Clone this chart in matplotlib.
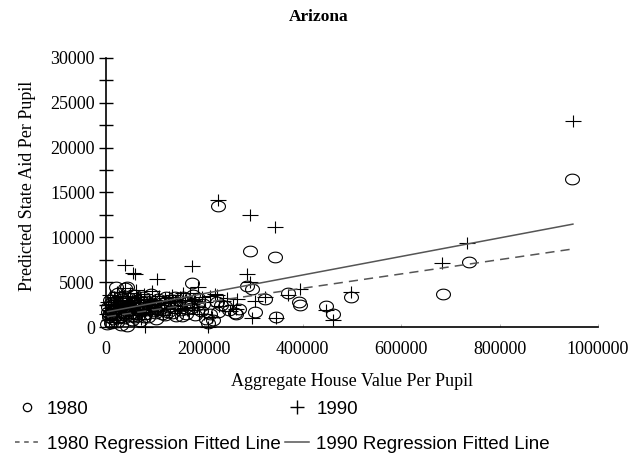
import numpy as np
import matplotlib
matplotlib.use("Agg")
import matplotlib.pyplot as plt
from matplotlib.path import Path
from matplotlib.lines import Line2D

# 1980 points: dense cluster near the origin
x80_cluster = [3000, 5000, 7000, 9000, 10000, 12000, 14000, 15000, 17000, 19000,
               20000, 22000, 24000, 25000, 27000, 29000, 30000, 32000, 34000, 35000,
               37000, 39000, 40000, 42000, 44000, 46000, 48000, 50000, 52000, 55000,
               57000, 60000, 62000, 65000, 68000, 70000, 73000, 76000, 79000, 82000,
               85000, 88000, 91000, 95000, 98000, 102000, 106000, 110000, 114000, 118000,
               122000, 127000, 132000, 137000, 142000, 147000, 152000, 157000, 162000, 167000,
               172000, 177000, 181000, 185000, 188000, 193000, 198000, 204000, 208000, 212000,
               218000, 225000, 228000, 233000, 242000, 250000, 262000, 264000, 270000, 140000,
               8000, 16000, 26000, 33000, 43000, 53000, 63000, 72000, 84000, 96000,
               6000, 11000, 18000, 23000, 28000, 36000, 41000, 47000, 51000, 58000,
               61000, 67000, 74000, 78000, 87000, 93000, 100000, 108000, 116000, 125000,
               134000, 145000, 155000, 165000, 175000, 4000, 31000, 56000, 81000, 120000]
y80_cluster = [300, 2200, 1100, 3000, 400, 1800, 2600, 900, 3400, 1500,
               2900, 600, 2100, 3800, 1300, 2500, 200, 3100, 1700, 2800,
               1000, 3500, 2300, 100, 1900, 3200, 1400, 2700, 800, 2400,
               3600, 1600, 3000, 1200, 2600, 700, 2000, 3300, 1500, 2900,
               1100, 2200, 3700, 1800, 2500, 900, 3100, 2000, 1400, 2700,
               3400, 1700, 2300, 3000, 1200, 2600, 1900, 3300, 1500, 2800,
               2100, 3600, 1300, 2400, 3200, 1800, 2600, 900, 500, 1500,
               800, 2800, 1700, 2400, 2300, 1900, 1600, 1500, 2000, 3400,
               1500, 2000, 1700, 2400, 4500, 1200, 2100, 2500, 1900, 2300,
               1300, 2700, 1900, 1000, 3300, 2100, 1600, 2400, 1900, 1100,
               2800, 1800, 2500, 1100, 2000, 2700, 1600, 2300, 1900, 2200,
               1600, 2400, 1200, 2000, 2700, 1700, 2300, 2900, 2000, 1300]
# 1980 points away from the cluster
x80_out = [174000, 21000, 38000, 227000, 286000, 296000, 292000, 344000, 323000, 303000,
           345000, 370000, 392000, 394000, 448000, 461000, 497000, 684000, 737000, 948000]
y80_out = [4900, 4500, 4400, 13500, 4600, 4200, 8500, 7800, 3100, 1700,
           1100, 3800, 2800, 2450, 2300, 1500, 3300, 3700, 7300, 16500]

# 1990 points: dense cluster near the origin
x90_cluster = [2000, 4000, 6000, 8000, 11000, 13000, 16000, 18000, 21000, 23000,
               26000, 28000, 31000, 33000, 36000, 38000, 41000, 43000, 45000, 47000,
               49000, 51000, 54000, 56000, 59000, 61000, 64000, 67000, 69000, 72000,
               75000, 78000, 81000, 84000, 87000, 90000, 93000, 97000, 100000, 104000,
               108000, 112000, 116000, 120000, 125000, 130000, 135000, 140000, 145000, 150000,
               155000, 160000, 165000, 170000, 175000, 180000, 185000, 190000, 196000, 202000,
               207000, 212000, 216000, 222000, 230000, 238000, 245000, 252000, 258000, 266000,
               10000, 24000, 34000, 52000, 66000, 80000, 94000, 110000, 128000, 150000,
               5000, 14000, 19000, 29000, 39000, 44000, 57000, 62000, 70000, 77000,
               86000, 99000, 106000, 118000, 138000, 160000, 178000, 200000, 9000, 48000]
y90_cluster = [1500, 2800, 800, 3600, 2100, 1200, 3300, 2500, 600, 3900,
               1800, 2900, 1400, 3500, 2200, 4300, 1000, 2700, 3200, 1700,
               3800, 2400, 1300, 3000, 2000, 4100, 1600, 2800, 3400, 900,
               2300, 3700, 1900, 2600, 3100, 1500, 4000, 2200, 2900, 1800,
               3500, 2500, 1300, 3200, 2700, 2000, 3600, 2900, 1600, 3300,
               2400, 3000, 1900, 3800, 2600, 3100, 2200, 1400, 3400, 2800,
               0, 3500, 1100, 3700, 2300, 2900, 3200, 1800, 2500, 3100,
               2600, 3000, 2300, 2700, 3300, 0, 2800, 2100, 3400, 2000,
               2400, 1900, 3000, 2200, 1700, 2600, 2000, 3300, 2500, 1700,
               2400, 3000, 2100, 2700, 2300, 2100, 2900, 1500, 1900, 2200]
# 1990 points away from the cluster
x90_out = [949000, 734000, 682000, 228000, 292000, 344000, 174000, 188000, 103000, 55000,
           58000, 38000, 286000, 292000, 323000, 303000, 296000, 345000, 370000, 394000,
           448000, 461000, 497000, 264000, 225000, 157000]
y90_out = [23000, 9330, 7100, 14200, 12500, 11100, 6800, 4500, 5300, 6000,
           5900, 6900, 5900, 5050, 3400, 2900, 1000, 1000, 3600, 4200,
           1900, 780, 3940, 2000, 3570, 3760]

# fitted regression lines (intercept, slope)
fit80 = (1130, 0.00798)
fit90 = (1670, 0.01033)

x_ticks = [0, 200000, 400000, 600000, 800000, 1000000]
y_ticks = [0, 5000, 10000, 15000, 20000, 25000, 30000]

serif = "Liberation Serif"
sans = "Liberation Sans"

# wide, flat markers like the original
t = np.linspace(0, 2 * np.pi, 61)
ellipse = Path(np.column_stack([1.3 * np.cos(t), np.sin(t)]), closed=True)
plus = Path([(-1.33, 0), (1.33, 0), (0, -1), (0, 1)],
            [Path.MOVETO, Path.LINETO, Path.MOVETO, Path.LINETO])

fig = plt.figure(figsize=(6.37, 4.59), dpi=100)
ax = fig.add_axes([106 / 637, 1 - 327 / 459, 492 / 637, 269 / 459])

x80 = x80_cluster + x80_out
y80 = y80_cluster + y80_out
x90 = x90_cluster + x90_out
y90 = y90_cluster + y90_out

ax.plot(x80, y80, linestyle="none", marker=ellipse, markersize=10,
        mfc="none", mec="black", mew=0.8, clip_on=False)
ax.plot(x90, y90, linestyle="none", marker=plus, markersize=11.5,
        mfc="none", mec="black", mew=0.8, clip_on=False)

xs = np.array([min(x80 + x90), max(x80 + x90)])
ax.plot(xs, fit80[0] + fit80[1] * xs, color="#555555", lw=1.1, dashes=(6, 4))
ax.plot(xs, fit90[0] + fit90[1] * xs, color="#555555", lw=1.1)

ax.set_xlim(0, 1000000)
ax.set_ylim(0, 30000)
ax.spines["top"].set_visible(False)
ax.spines["right"].set_visible(False)
ax.spines["left"].set_linewidth(1.2)
ax.spines["bottom"].set_linewidth(1.2)

ax.set_xticks(x_ticks)
ax.set_xticklabels([str(v) for v in x_ticks], fontfamily=serif, fontsize=13)
ax.set_yticks(y_ticks)
ax.set_yticklabels([str(v) for v in y_ticks], fontfamily=serif, fontsize=13)
ax.set_yticks(np.arange(2500, 30000, 5000), minor=True)
ax.tick_params(axis="y", which="both", direction="inout", length=10, width=1, pad=3)
ax.tick_params(axis="x", direction="in", length=2, width=0.6, color="#aaaaaa", pad=10)

fig.text(0.5, 1 - 17 / 459, "Arizona", ha="center", va="center",
         fontfamily=serif, fontsize=12.5, fontweight="bold")
fig.text(352 / 637, 1 - 381 / 459, "Aggregate House Value Per Pupil", ha="center",
         va="center", fontfamily=serif, fontsize=13)
fig.text(28 / 637, 1 - 186 / 459, "Predicted State Aid Per Pupil", ha="center",
         va="center", rotation=90, fontfamily=serif, fontsize=13)

handles = [
    Line2D([], [], linestyle="none", marker="o", markersize=6, mfc="none", mec="black", mew=0.9),
    Line2D([], [], color="#555555", lw=1.1, dashes=(3, 3)),
    Line2D([], [], linestyle="none", marker="+", markersize=10, mec="black", mew=1),
    Line2D([], [], color="#555555", lw=1.1),
]
labels = ["1980", "1980 Regression Fitted Line", "1990", "1990 Regression Fitted Line"]
fig.legend(handles, labels, ncol=2, loc="lower left", bbox_to_anchor=(2 / 637, -7 / 459),
           frameon=False, prop={"family": sans, "size": 13.5}, handlelength=1.3,
           handletextpad=0.4, columnspacing=0.2, labelspacing=0.95, borderpad=0.2)

fig.savefig("out.png", dpi=100)
